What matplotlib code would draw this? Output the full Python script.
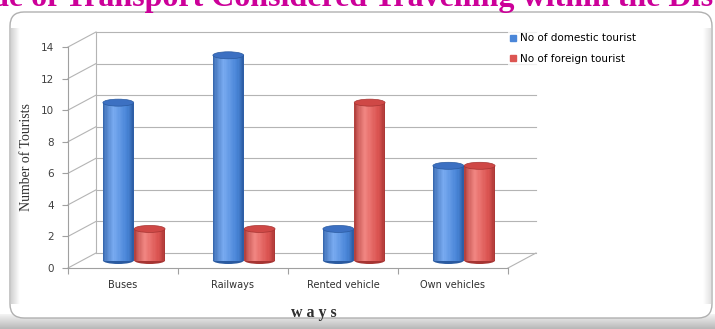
import numpy as np
import matplotlib.pyplot as plt
from matplotlib.patches import Ellipse, FancyBboxPatch
from matplotlib.lines import Line2D
from matplotlib.colors import to_rgb, LinearSegmentedColormap

categories = ['Buses', 'Railways', 'Rented vehicle', 'Own vehicles']
domestic = [10, 13, 2, 6]
foreign = [2, 2, 10, 6]
series_names = ['No of domestic tourist', 'No of foreign tourist']
y_ticks = [0, 2, 4, 6, 8, 10, 12, 14]
title = 'Mode of Transport Considered Travelling within the District'

W, H = 715, 329
fig = plt.figure(figsize=(W / 100, H / 100), dpi=100)

# background frame (pixel coords)
bg = fig.add_axes([0, 0, 1, 1])
bg.set_axis_off()
shade = LinearSegmentedColormap.from_list('shade', ['#ffffff', '#b8b8b8'])
ramp = np.linspace(0, 1, 30).reshape(-1, 1)
bg.imshow(ramp, extent=(0, W, H, 314), cmap=shade, vmin=-0.2, vmax=1, aspect='auto', zorder=0)
bg.add_patch(FancyBboxPatch((10, 12), 702, 306, boxstyle='round,pad=0,rounding_size=14',
                            facecolor='white', edgecolor='#b0b0b0', lw=1.0, zorder=1))
bg.imshow(ramp.T[:, ::-1], extent=(11, 20, 304, 28), cmap=shade, vmin=0, vmax=1.6, aspect='auto', zorder=2)
bg.imshow(ramp.T, extent=(703, 711, 304, 28), cmap=shade, vmin=0, vmax=2.5, aspect='auto', zorder=2)
bg.set_xlim(0, W)
bg.set_ylim(H, 0)

fig.text(-55 / W, 1 - 6 / H, title, color='#cc0099', fontfamily='Liberation Serif',
         fontweight='bold', fontsize=23, va='baseline', ha='left')

# main axes: front edges of the 3d box
x0, y0, aw, ah = 68, 268, 440, 221
ax = fig.add_axes([x0 / W, (H - y0) / H, aw / W, ah / H])
ax.set_xlim(0, len(categories))
ax.set_ylim(0, 14)
ax.patch.set_visible(False)

ux = aw / len(categories)   # px per category
uy = ah / 14.0               # px per unit
dx = 28 / ux                 # depth offset in data units
dy = 15 / uy

grid_c = '#b4b4b4'
for t in y_ticks:
    ax.plot([0 + dx, len(categories) + dx], [t + dy, t + dy], color=grid_c, lw=0.8, clip_on=False, zorder=1)
    ax.plot([0, dx], [t, t + dy], color=grid_c, lw=0.8, clip_on=False, zorder=1)
ax.plot([dx, dx], [dy, 14 + dy], color=grid_c, lw=0.8, clip_on=False, zorder=1)
ax.plot([len(categories), len(categories) + dx], [0, dy], color=grid_c, lw=0.8, clip_on=False, zorder=1)

for s in ['top', 'right']:
    ax.spines[s].set_visible(False)
for s in ['left', 'bottom']:
    ax.spines[s].set_color('#a0a0a0')
    ax.spines[s].set_linewidth(0.8)

ax.set_yticks(y_ticks)
ax.set_yticklabels([str(t) for t in y_ticks], fontsize=7.5, color='#404040')
ax.set_xticks(range(len(categories) + 1))
ax.set_xticklabels([])
ax.set_xticks([i + 0.5 for i in range(len(categories))], minor=True)
ax.set_xticklabels(categories, minor=True, fontsize=7, color='#303030')
ax.tick_params(axis='x', which='minor', length=0, pad=9)
ax.tick_params(axis='both', which='major', direction='out', length=4, color='#a0a0a0', width=0.8)
ax.tick_params(axis='y', pad=6)

ax.set_ylabel('Number of Tourists', fontfamily='Liberation Serif', fontsize=10, color='#303030')
ax.yaxis.set_label_coords(-(68 - 33) / aw, 0.5)
ax.set_xlabel('w a y s', fontfamily='Liberation Serif', fontweight='bold', fontsize=11.5,
              color='#303030')
ax.xaxis.set_label_coords((314 - 68) / aw, -(305 - 268) / ah)


def cylinder(xc, h, w, light, mid, dark, top):
    n = 24
    edges = np.linspace(xc - w / 2, xc + w / 2, n + 1)
    t = (edges[:-1] + edges[1:]) / 2
    t = (t - (xc - w / 2)) / w
    L, M, D = map(np.array, (to_rgb(light), to_rgb(mid), to_rgb(dark)))
    for k in range(n):
        s = t[k]
        if s < 0.35:
            c = D + (L - D) * (s / 0.35) ** 0.6
        else:
            f = (s - 0.35) / 0.65
            c = L + (M - L) * min(f * 1.6, 1) if f < 0.6 else M + (D - M) * ((f - 0.6) / 0.4) ** 1.5
        ax.bar(edges[k] + w / n / 2, h, width=w / n * 1.05, bottom=dy / 2,
               color=tuple(np.clip(c, 0, 1)), lw=0, zorder=3, clip_on=False)
    eh = 7 / uy
    ax.add_patch(Ellipse((xc, dy / 2), w, eh, facecolor=dark, lw=0, zorder=2.9, clip_on=False))
    ax.add_patch(Ellipse((xc, h + dy / 2), w, eh, facecolor=top, edgecolor=dark,
                         lw=0.5, zorder=4, clip_on=False))


bw = 0.28
for i in range(len(categories)):
    cylinder(i + 0.33 + dx / 2, domestic[i], bw, '#78aaf0', '#4a86d8', '#2a5aa0', '#3c70c2')
    cylinder(i + 0.615 + dx / 2, foreign[i], bw, '#f08480', '#dc5552', '#a63432', '#cf4846')

handles = [Line2D([], [], marker='s', ls='', color='#4a86d8', markersize=4),
           Line2D([], [], marker='s', ls='', color='#dc5552', markersize=4)]
fig.legend(handles, series_names, loc='upper left', bbox_to_anchor=(503 / W, 1 - 26 / H),
           frameon=True, facecolor='white', edgecolor='none', fontsize=7.5, handlelength=0.6,
           handletextpad=0.3, labelspacing=1.0, borderpad=0.2, fancybox=False)

fig.savefig('out.png', dpi=100)
